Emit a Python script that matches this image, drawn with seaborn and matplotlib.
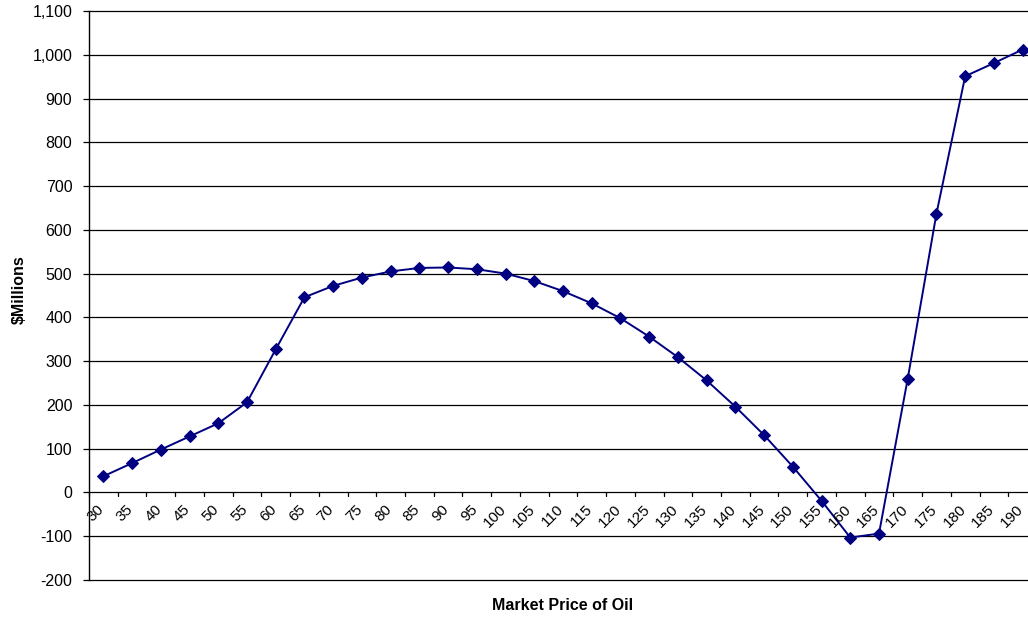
import matplotlib
matplotlib.use("Agg")
import matplotlib.pyplot as plt
import seaborn as sns
import numpy as np
import pandas as pd

prices = [30, 35, 40, 45, 50, 55, 60, 65, 70, 75, 80, 85, 90, 95, 100, 105, 110,
          115, 120, 125, 130, 135, 140, 145, 150, 155, 160, 165, 170, 175, 180, 185, 190]
values = [37, 67, 98, 128, 158, 206, 327, 446, 472, 491, 505, 513, 514, 510, 500, 483, 460,
          432, 398, 356, 309, 256, 196, 131, 59, -19, -103, -94, 260, 637, 951, 981, 1012]
y_ticks = list(range(-200, 1101, 100))

sns.set_theme(style="white")
plt.rcParams['font.family'] = ['Liberation Sans', 'DejaVu Sans']
plt.rcParams['text.color'] = 'black'
plt.rcParams['ytick.color'] = 'black'
plt.rcParams['ytick.labelcolor'] = 'black'

df = pd.DataFrame({"idx": np.arange(len(prices)), "value": values})

fig = plt.figure(figsize=(10.28, 6.2), dpi=100)
ax = fig.add_axes([89/1028, 1-580/620, (1037-89)/1028, (580-11)/620])

for yt in y_ticks:
    ax.axhline(yt, color="black", lw=0.9, zorder=1, clip_on=False)

sns.lineplot(data=df, x="idx", y="value", ax=ax, color="#000080", lw=1.4,
             marker="D", markersize=6, markeredgecolor="#000080",
             markerfacecolor="#000080", zorder=3)

ax.set_xlim(-0.5, len(prices) - 0.5)
ax.set_ylim(-200, 1100)
ax.set_yticks(y_ticks)
ax.set_yticklabels([f"{v:,}" for v in y_ticks], fontsize=11.5, color="black")
ax.tick_params(axis="y", direction="out", length=4, width=0.9, color="black",
               labelcolor="black", pad=8, left=True)

for s in ["top", "right", "bottom"]:
    ax.spines[s].set_visible(False)
ax.spines["left"].set_color("black")
ax.spines["left"].set_linewidth(1.0)

# category boundary ticks on the zero line
ax.set_xticks([])
for b in np.arange(len(prices) + 1) - 0.5:
    ax.plot([b, b], [0, -8], color="black", lw=0.9, zorder=2, clip_on=False)

for i, p in enumerate(prices):
    ax.text(i - 0.05, -33, str(p), rotation=45, rotation_mode="anchor",
            ha="right", va="center", fontsize=11, color="black")

ax.set_xlabel("")
ax.set_ylabel("")
fig.text(19/1028, 1-290/620, "$Millions", rotation=90, ha="center", va="center",
         fontsize=11.5, fontweight="bold", color="black")
fig.text(563/1028, 1-606/620, "Market Price of Oil", ha="center", va="center",
         fontsize=11.5, fontweight="bold", color="black")

fig.savefig("out.png", dpi=100)
